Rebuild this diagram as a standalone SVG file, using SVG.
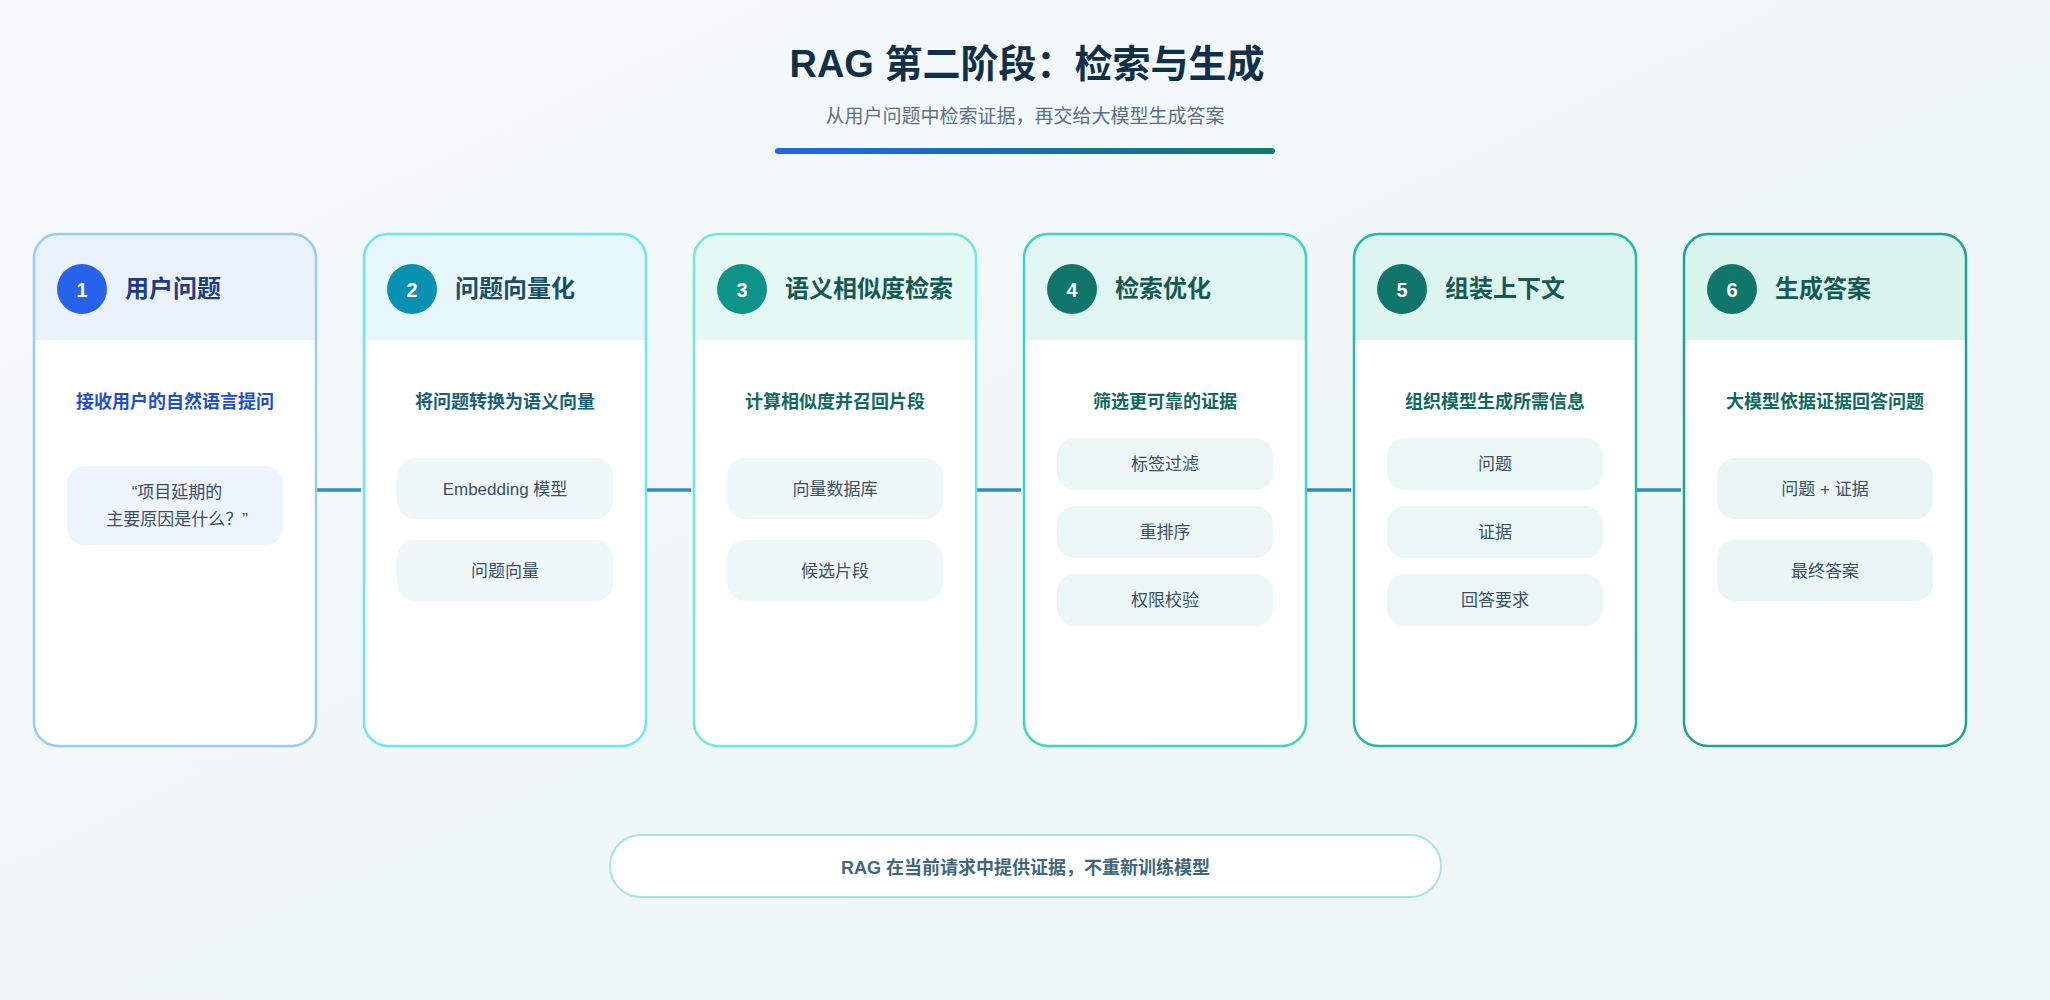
<svg xmlns="http://www.w3.org/2000/svg" width="2050" height="1000" viewBox="0 0 2050 1000">
<defs>
<linearGradient id="bg" x1="0" y1="0" x2="1" y2="1">
<stop offset="0" stop-color="#f6f9fc"/>
<stop offset="1" stop-color="#ecf6f4"/>
</linearGradient>
<linearGradient id="bar" x1="0" y1="0" x2="1" y2="0">
<stop offset="0" stop-color="#2563eb"/>
<stop offset="1" stop-color="#127a6b"/>
</linearGradient>
<style>
text{font-family:"Liberation Sans","Noto Sans CJK SC",sans-serif}
.card{fill:#ffffff}
.border{fill:none;stroke-width:2.5}
.num{font-size:20px;font-weight:700;fill:#ffffff;text-anchor:middle}
.ttl{font-size:24px;font-weight:700}
.sub{font-size:18px;font-weight:700;text-anchor:middle}
.pill{font-size:17px;fill:#3b4f66;text-anchor:middle}
.conn{stroke:#3190b9;stroke-width:3.5}
</style>
</defs>
<rect x="0" y="0" width="2050" height="1000" fill="url(#bg)"/>

<g id="header">
<text x="1027" y="77" font-size="38" font-weight="700" fill="#10304a" text-anchor="middle">RAG 第二阶段：检索与生成</text>
<text x="1025" y="123" font-size="19" fill="#5b7189" text-anchor="middle">从用户问题中检索证据，再交给大模型生成答案</text>
<rect x="775" y="148" width="500" height="6" rx="3" fill="url(#bar)"/>
</g>

<g id="connectors">
<line class="conn" x1="317" y1="490" x2="361" y2="490"/>
<line class="conn" x1="647" y1="490" x2="691" y2="490"/>
<line class="conn" x1="977" y1="490" x2="1021" y2="490"/>
<line class="conn" x1="1307" y1="490" x2="1351" y2="490"/>
<line class="conn" x1="1637" y1="490" x2="1681" y2="490"/>
</g>

<g id="step1" transform="translate(34,234)">
<rect class="card" x="0" y="0" width="282" height="512" rx="24"/>
<path d="M0,106 V24 A24,24 0 0 1 24,0 H258 A24,24 0 0 1 282,24 V106 Z" fill="#eaf2fe"/>
<rect class="border" x="0" y="0" width="282" height="512" rx="24" stroke="#9cc9fb"/>
<circle cx="48" cy="55" r="25" fill="#2563eb"/>
<text class="num" x="48" y="63">1</text>
<text class="ttl" x="91" y="63" fill="#1e3a8a">用户问题</text>
<text class="sub" x="141" y="174" fill="#1d4ed8">接收用户的自然语言提问</text>
<rect x="33" y="232" width="216" height="79" rx="18" fill="#eef4fd"/>
<text class="pill" x="143" y="264" font-size="16">“项目延期的</text>
<text class="pill" x="143" y="291" font-size="16">主要原因是什么？”</text>
</g>

<g id="step2" transform="translate(364,234)">
<rect class="card" x="0" y="0" width="282" height="512" rx="24"/>
<path d="M0,106 V24 A24,24 0 0 1 24,0 H258 A24,24 0 0 1 282,24 V106 Z" fill="#e6f7fd"/>
<rect class="border" x="0" y="0" width="282" height="512" rx="24" stroke="#6ce6f7"/>
<circle cx="48" cy="55" r="25" fill="#0891b2"/>
<text class="num" x="48" y="63">2</text>
<text class="ttl" x="91" y="63" fill="#184f66">问题向量化</text>
<text class="sub" x="141" y="174" fill="#166079">将问题转换为语义向量</text>
<rect x="33" y="224" width="216" height="61" rx="18" fill="#eff7fb"/>
<text class="pill" x="141" y="260.5">Embedding 模型</text>
<rect x="33" y="306" width="216" height="61" rx="18" fill="#eff7fb"/>
<text class="pill" x="141" y="342.5">问题向量</text>
</g>

<g id="step3" transform="translate(694,234)">
<rect class="card" x="0" y="0" width="282" height="512" rx="24"/>
<path d="M0,106 V24 A24,24 0 0 1 24,0 H258 A24,24 0 0 1 282,24 V106 Z" fill="#e4f9f4"/>
<rect class="border" x="0" y="0" width="282" height="512" rx="24" stroke="#6ee9d8"/>
<circle cx="48" cy="55" r="25" fill="#0d9488"/>
<text class="num" x="48" y="63">3</text>
<text class="ttl" x="91" y="63" fill="#155a52" font-size="22">语义相似度检索</text>
<text class="sub" x="141" y="174" fill="#10695f">计算相似度并召回片段</text>
<rect x="33" y="224" width="216" height="61" rx="18" fill="#eff8f8"/>
<text class="pill" x="141" y="260.5">向量数据库</text>
<rect x="33" y="306" width="216" height="61" rx="18" fill="#eff8f8"/>
<text class="pill" x="141" y="342.5">候选片段</text>
</g>

<g id="step4" transform="translate(1024,234)">
<rect class="card" x="0" y="0" width="282" height="512" rx="24"/>
<path d="M0,106 V24 A24,24 0 0 1 24,0 H258 A24,24 0 0 1 282,24 V106 Z" fill="#e1f6f2"/>
<rect class="border" x="0" y="0" width="282" height="512" rx="24" stroke="#3ad6c2"/>
<circle cx="48" cy="55" r="25" fill="#10766b"/>
<text class="num" x="48" y="63">4</text>
<text class="ttl" x="91" y="63" fill="#155a52">检索优化</text>
<text class="sub" x="141" y="174" fill="#10695f">筛选更可靠的证据</text>
<rect x="33" y="204" width="216" height="52" rx="18" fill="#ecf7f5"/>
<text class="pill" x="141" y="236">标签过滤</text>
<rect x="33" y="272" width="216" height="52" rx="18" fill="#ecf7f5"/>
<text class="pill" x="141" y="304">重排序</text>
<rect x="33" y="340" width="216" height="52" rx="18" fill="#ecf7f5"/>
<text class="pill" x="141" y="372">权限校验</text>
</g>

<g id="step5" transform="translate(1354,234)">
<rect class="card" x="0" y="0" width="282" height="512" rx="24"/>
<path d="M0,106 V24 A24,24 0 0 1 24,0 H258 A24,24 0 0 1 282,24 V106 Z" fill="#ddf5ef"/>
<rect class="border" x="0" y="0" width="282" height="512" rx="24" stroke="#22bba9"/>
<circle cx="48" cy="55" r="25" fill="#10766b"/>
<text class="num" x="48" y="63">5</text>
<text class="ttl" x="91" y="63" fill="#155a52">组装上下文</text>
<text class="sub" x="141" y="174" fill="#10695f">组织模型生成所需信息</text>
<rect x="33" y="204" width="216" height="52" rx="18" fill="#eaf7f4"/>
<text class="pill" x="141" y="236">问题</text>
<rect x="33" y="272" width="216" height="52" rx="18" fill="#eaf7f4"/>
<text class="pill" x="141" y="304">证据</text>
<rect x="33" y="340" width="216" height="52" rx="18" fill="#eaf7f4"/>
<text class="pill" x="141" y="372">回答要求</text>
</g>

<g id="step6" transform="translate(1684,234)">
<rect class="card" x="0" y="0" width="282" height="512" rx="24"/>
<path d="M0,106 V24 A24,24 0 0 1 24,0 H258 A24,24 0 0 1 282,24 V106 Z" fill="#d9f3ed"/>
<rect class="border" x="0" y="0" width="282" height="512" rx="24" stroke="#1ca393"/>
<circle cx="48" cy="55" r="25" fill="#10766b"/>
<text class="num" x="48" y="63">6</text>
<text class="ttl" x="91" y="63" fill="#155a52">生成答案</text>
<text class="sub" x="141" y="174" fill="#10695f">大模型依据证据回答问题</text>
<rect x="33" y="224" width="216" height="61" rx="18" fill="#e9f6f3"/>
<text class="pill" x="141" y="260.5">问题 + 证据</text>
<rect x="33" y="306" width="216" height="61" rx="18" fill="#e9f6f3"/>
<text class="pill" x="141" y="342.5">最终答案</text>
</g>

<g id="note">
<rect x="610" y="835" width="831" height="62" rx="31" fill="#ffffff" stroke="#a6e6df" stroke-width="2"/>
<text x="1025.5" y="874" font-size="18" font-weight="700" fill="#3e6780" text-anchor="middle">RAG 在当前请求中提供证据，不重新训练模型</text>
</g>
</svg>
